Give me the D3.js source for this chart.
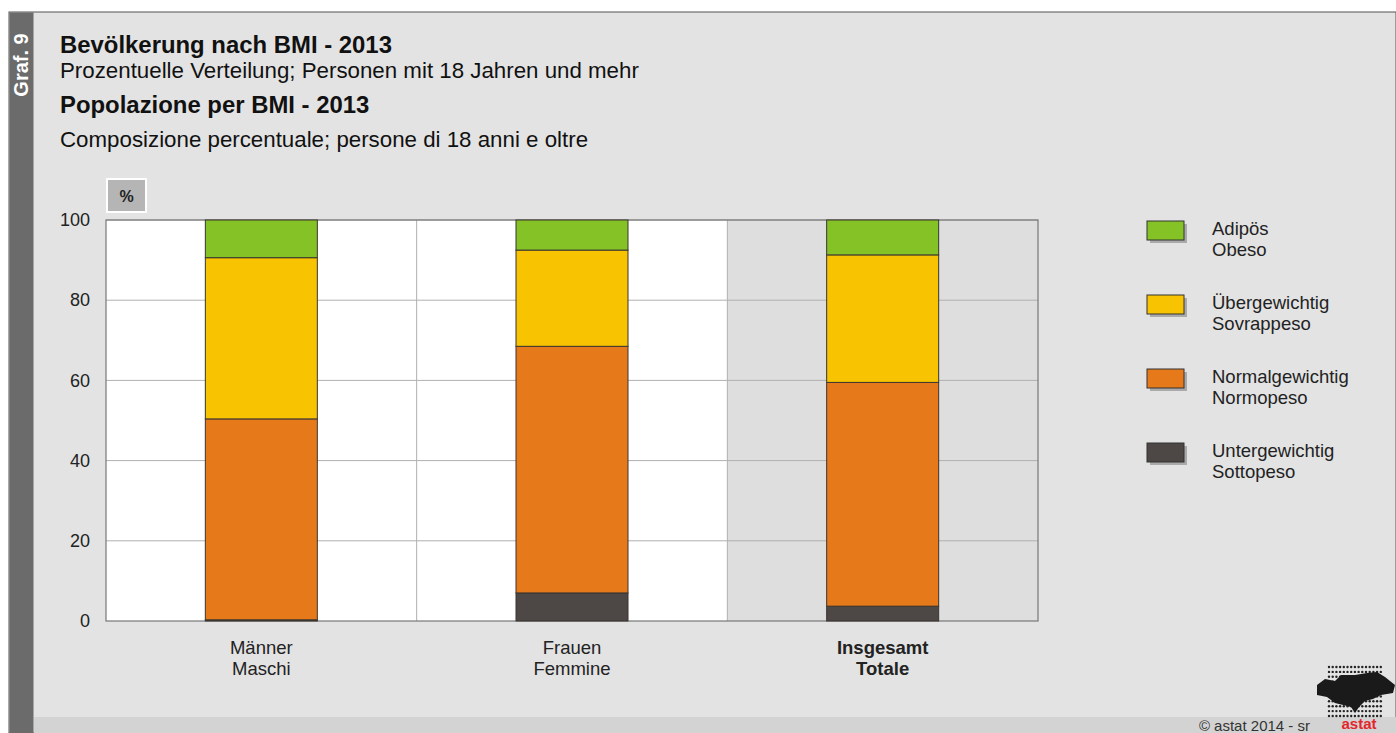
<!DOCTYPE html>
<html>
<head>
<meta charset="utf-8">
<script src="https://cdn.jsdelivr.net/npm/d3@7"></script>
<style>
  body { margin: 0; background: #fff; }
  svg { display: block; font-family: "Liberation Sans", Arial, sans-serif; }
</style>
</head>
<body>
<div id="chart"></div>
<script>
// data
var categories = ["Männer", "Frauen", "Insgesamt"];
var categoriesIt = ["Maschi", "Femmine", "Totale"];
var seriesDe = ["Untergewichtig", "Normalgewichtig", "Übergewichtig", "Adipös"];
var seriesIt = ["Sottopeso", "Normopeso", "Sovrappeso", "Obeso"];
var untergewichtig = [0.3, 7.0, 3.7];
var normalgewichtig = [50.1, 61.5, 55.8];
var uebergewichtig = [40.2, 24.0, 31.8];
var adipoes = [9.4, 7.5, 8.7];
var yTicks = [0, 20, 40, 60, 80, 100];

var colors = ["#4d4846", "#e6791a", "#f8c300", "#84c225"];

var W = 1396, H = 733;
var svg = d3.select("#chart").append("svg").attr("width", W).attr("height", H);

// frame
svg.append("rect").attr("x", 9).attr("y", 12).attr("width", W - 9).attr("height", H - 12)
    .attr("fill", "#e3e3e3").attr("stroke", "#555").attr("stroke-width", 1);
svg.append("rect").attr("x", 9.5).attr("y", 12.5).attr("width", 24).attr("height", H - 12)
    .attr("fill", "#6b6b6b");
svg.append("text")
    .attr("transform", "translate(28,65) rotate(-90)")
    .attr("text-anchor", "middle")
    .attr("fill", "#fff").style("font-size", "20px").style("font-weight", "bold")
    .text("Graf. 9");
// bottom strip
svg.append("rect").attr("x", 34).attr("y", 717).attr("width", W - 34).attr("height", 16)
    .attr("fill", "#d3d3d3");
svg.append("text").attr("x", 1310).attr("y", 731).attr("text-anchor", "end")
    .attr("fill", "#333").style("font-size", "15px").text("©  astat 2014 - sr");

// titles
var titles = [
    {t: "Bevölkerung nach BMI - 2013", y: 53, b: true},
    {t: "Prozentuelle Verteilung; Personen mit 18 Jahren und mehr", y: 78, b: false},
    {t: "Popolazione per BMI - 2013", y: 113, b: true},
    {t: "Composizione percentuale; persone di 18 anni e oltre", y: 147, b: false}
];
svg.selectAll("text.title").data(titles).enter().append("text")
    .attr("class", "title")
    .attr("x", 60).attr("y", function (d) { return d.y; })
    .attr("fill", "#111")
    .style("font-size", function (d) { return d.b ? "23.9px" : "22.3px"; })
    .style("font-weight", function (d) { return d.b ? "bold" : "normal"; })
    .text(function (d) { return d.t; });

var margin = {left: 106, top: 220},
    width = 932, height = 401;
var g = svg.append("g").attr("transform", "translate(" + margin.left + "," + margin.top + ")");

var x = d3.scaleBand().domain(categories).range([0, width]).paddingInner(0).paddingOuter(0);
var y = d3.scaleLinear().domain([0, 100]).range([height, 0]);

// plot background bands
g.selectAll("rect.band").data(categories).enter().append("rect")
    .attr("class", "band")
    .attr("x", function (d) { return x(d); })
    .attr("y", 0)
    .attr("width", x.bandwidth())
    .attr("height", height)
    .attr("fill", function (d, i) { return i === 2 ? "#dedede" : "#fff"; });

// grid
g.selectAll("line.hgrid").data(yTicks.slice(1)).enter().append("line")
    .attr("class", "hgrid")
    .attr("x1", 0).attr("x2", width)
    .attr("y1", function (d) { return y(d); }).attr("y2", function (d) { return y(d); })
    .attr("stroke", "#b0b0b0").attr("stroke-width", 1);
g.selectAll("line.vgrid").data(categories.slice(1)).enter().append("line")
    .attr("class", "vgrid")
    .attr("x1", function (d) { return x(d); }).attr("x2", function (d) { return x(d); })
    .attr("y1", 0).attr("y2", height)
    .attr("stroke", "#b0b0b0").attr("stroke-width", 1);
g.append("rect").attr("x", 0).attr("y", 0).attr("width", width).attr("height", height)
    .attr("fill", "none").attr("stroke", "#777").attr("stroke-width", 1.2);

// y axis labels
var yAxis = g.append("g").call(d3.axisLeft(y).tickValues(yTicks).tickSize(0).tickPadding(16));
yAxis.select(".domain").remove();
yAxis.selectAll("text").style("font-size", "18px").attr("fill", "#222")
    .style("font-family", "'Liberation Sans', Arial, sans-serif");

// % box
svg.append("rect").attr("x", 107).attr("y", 179).attr("width", 39).attr("height", 33)
    .attr("fill", "#b5b5b5").attr("stroke", "#fff").attr("stroke-width", 2);
svg.append("text").attr("x", 126.5).attr("y", 202).attr("text-anchor", "middle")
    .style("font-size", "16px").style("font-weight", "bold").attr("fill", "#222").text("%");

// stacked bars
var rows = categories.map(function (c, i) {
    return {cat: c, s0: untergewichtig[i], s1: normalgewichtig[i], s2: uebergewichtig[i], s3: adipoes[i]};
});
var stack = d3.stack().keys(["s0", "s1", "s2", "s3"]);
var layers = stack(rows);
var barW = 112;
g.selectAll("g.layer").data(layers).enter().append("g")
    .attr("class", "layer")
    .attr("fill", function (d, i) { return colors[i]; })
    .selectAll("rect").data(function (d) { return d; }).enter().append("rect")
    .attr("x", function (d) { return x(d.data.cat) + x.bandwidth() / 2 - barW / 2; })
    .attr("y", function (d) { return y(d[1]); })
    .attr("width", barW)
    .attr("height", function (d) { return y(d[0]) - y(d[1]); })
    .attr("stroke", "#3a3530").attr("stroke-width", 1);

// x labels
var xl = g.selectAll("text.xlab").data(categories).enter().append("text")
    .attr("class", "xlab")
    .attr("text-anchor", "middle")
    .attr("fill", "#222")
    .style("font-size", "18.5px")
    .style("font-weight", function (d, i) { return i === 2 ? "bold" : "normal"; });
xl.append("tspan")
    .attr("x", function (d) { return x(d) + x.bandwidth() / 2; })
    .attr("y", height + 33)
    .text(function (d) { return d; });
xl.append("tspan")
    .attr("x", function (d) { return x(d) + x.bandwidth() / 2; })
    .attr("y", height + 54)
    .text(function (d, i) { return categoriesIt[i]; });

// legend (top to bottom: Adipös first)
var legOrder = [3, 2, 1, 0];
var leg = svg.selectAll("g.leg").data(legOrder).enter().append("g")
    .attr("class", "leg")
    .attr("transform", function (d, i) { return "translate(1147," + (221 + i * 74) + ")"; });
leg.append("rect").attr("x", 3).attr("y", 3).attr("width", 37).attr("height", 19).attr("fill", "#aaa");
leg.append("rect").attr("x", 0).attr("y", 0).attr("width", 37).attr("height", 19)
    .attr("fill", function (d) { return colors[d]; })
    .attr("stroke", "#333").attr("stroke-width", 1);
leg.append("text").attr("x", 65).attr("y", 14).style("font-size", "18.5px").attr("fill", "#222")
    .text(function (d) { return seriesDe[d]; });
leg.append("text").attr("x", 65).attr("y", 35).style("font-size", "18.5px").attr("fill", "#222")
    .text(function (d) { return seriesIt[d]; });

// logo (dot grid + blob + red word)
var logo = svg.append("g").attr("transform", "translate(1315,665)");
var dots = [];
for (var r = 0; r < 11; r++) for (var c = 0; c < 15; c++) dots.push([c, r]);
logo.selectAll("circle").data(dots).enter().append("circle")
    .attr("cx", function (d) { return 14 + d[0] * 3.7; })
    .attr("cy", function (d) { return 2 + d[1] * 4.9; })
    .attr("r", 1.2).attr("fill", "#222");
logo.append("path")
    .attr("d", "M2,20 L10,14 L20,16 L26,10 L40,10 L52,8 L62,7 L70,12 L80,20 L78,28 L66,30 L58,34 L50,36 L44,42 L40,48 L36,42 L28,40 L20,38 L12,32 L2,30 Z")
    .attr("fill", "#1a1a1a");
logo.append("text").attr("x", 44).attr("y", 64).attr("text-anchor", "middle")
    .attr("fill", "#e3262b").style("font-size", "15px").style("font-weight", "bold").text("astat");
</script>
</body>
</html>
